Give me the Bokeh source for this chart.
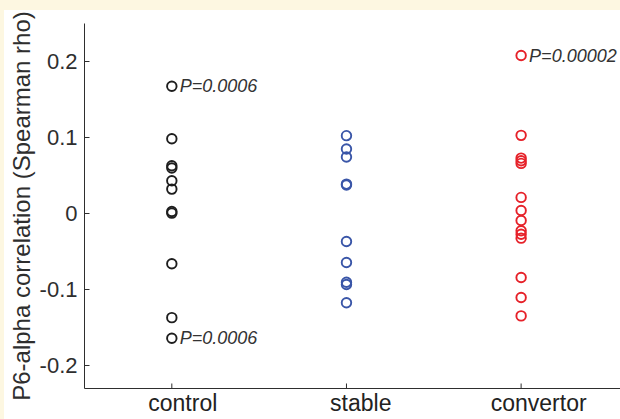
from bokeh.plotting import figure
from bokeh.layouts import column, row
from bokeh.models import (Range1d, FixedTicker, ColumnDataSource, LabelSet,
                          LinearAxis, Spacer)
from bokeh.core.properties import value
from bokeh.embed import file_html
from bokeh.resources import INLINE

# ---- data ----
categories = ["control", "stable", "convertor"]
control_rho = [0.1675, 0.0985, 0.063, 0.060, 0.0433, 0.0322, 0.0028, 0.0006,
               -0.066, -0.1368, -0.164]
stable_rho = [0.1025, 0.0849, 0.0744, 0.0388, 0.0375, -0.0367, -0.0643,
              -0.0902, -0.0933, -0.1172]
convertor_rho = [0.2079, 0.1029, 0.073, 0.0696, 0.066, 0.0213, 0.0041, -0.0091,
                 -0.0226, -0.0271, -0.0323, -0.0841, -0.1104, -0.1345]
group_colors = ["#1E1E1E", "#3A56A8", "#E62129"]

p_label_group = [1, 1, 3]
p_label_rho = [0.1675, -0.164, 0.2079]
p_label_text = ["P=0.0006", "P=0.0006", "P=0.00002"]

y_ticks = [-0.2, -0.1, 0, 0.1, 0.2]
y_tick_labels = ["-0.2", "-0.1", "0", "0.1", "0.2"]
x_limits = (0.5, 3.569)
y_limits = (-0.23, 0.25)
label_x_limits = (0.4476, 3.4597)   # category-label axis (labels sit right of ticks)

FONT = "Liberation Sans"
AX = "#2E2E2E"
CREAM = "#FDF7E1"
PAGE_W, PAGE_H = 620, 419
STRIP_TOP, STRIP_LEFT = 10, 4
W, H = PAGE_W - STRIP_LEFT, PAGE_H - STRIP_TOP
B_LEFT, B_TOP, B_BOTTOM, B_RIGHT = 80, 13, 31, 0

p = figure(width=W, height=H,
           x_range=Range1d(*x_limits), y_range=Range1d(*y_limits),
           x_axis_location=None,
           output_backend="svg", toolbar_location=None,
           min_border_left=B_LEFT, min_border_top=B_TOP,
           min_border_bottom=B_BOTTOM, min_border_right=B_RIGHT)
p.outline_line_color = None
p.xgrid.visible = False
p.ygrid.visible = False
p.background_fill_color = "white"
p.border_fill_color = "white"

# points
for i, (vals, col) in enumerate(zip([control_rho, stable_rho, convertor_rho], group_colors)):
    src = ColumnDataSource(dict(x=[i + 1] * len(vals), y=vals))
    p.scatter("x", "y", source=src, marker="circle", size=9.5,
              fill_color=None, line_color=col, line_width=1.9)

# P labels
psrc = ColumnDataSource(dict(x=p_label_group, y=p_label_rho, t=p_label_text))
p.add_layout(LabelSet(x="x", y="y", text="t", source=psrc, x_offset=8,
                      text_baseline="middle", text_align="left",
                      text_font=value(FONT), text_font_style="italic",
                      text_font_size="18px", text_color="#333333"))

# y axis
p.yaxis.ticker = FixedTicker(ticks=y_ticks)
p.yaxis.major_label_overrides = {t: s for t, s in zip(y_ticks, y_tick_labels)}
p.yaxis.axis_label = "P6-alpha correlation (Spearman rho)"
p.yaxis.axis_label_text_font = FONT
p.yaxis.axis_label_text_font_style = "normal"
p.yaxis.axis_label_text_font_size = "24px"
p.yaxis.axis_label_text_line_height = 1.0
p.yaxis.axis_label_text_color = AX
p.yaxis.axis_label_standoff = 2
p.yaxis.major_label_text_font = FONT
p.yaxis.major_label_text_font_size = "22px"
p.yaxis.major_label_text_color = AX
p.yaxis.major_label_standoff = 7
p.yaxis.axis_line_color = AX
p.yaxis.major_tick_line_color = AX
p.yaxis.major_tick_in = 5
p.yaxis.major_tick_out = 0
p.yaxis.minor_tick_line_color = None

# x axis: line + category labels on a label range
p.extra_x_ranges = {"lab": Range1d(*label_x_limits)}
xax = LinearAxis(x_range_name="lab", ticker=FixedTicker(ticks=[1, 2, 3]),
                 major_label_overrides={i + 1: c for i, c in enumerate(categories)})
xax.axis_line_color = AX
xax.axis_line_width = 1
xax.major_tick_line_color = None
xax.minor_tick_line_color = None
xax.major_tick_in = 0
xax.major_tick_out = 0
xax.major_label_standoff = 1
xax.major_label_text_font = FONT
xax.major_label_text_font_size = "23px"
xax.major_label_text_color = "#222222"
p.add_layout(xax, "below")

# inward x ticks at the category positions
tick_len = 5 * (y_limits[1] - y_limits[0]) / (H - B_TOP - B_BOTTOM)
tsrc = ColumnDataSource(dict(x=[1, 2, 3], y0=[y_limits[0]] * 3,
                             y1=[y_limits[0] + tick_len] * 3))
p.segment(x0="x", y0="y0", x1="x", y1="y1", source=tsrc,
          line_color=AX, line_width=1)

# cream page strips (top and left), as in the reference
top_strip = Spacer(width=PAGE_W, height=STRIP_TOP,
                   styles={"background-color": CREAM})
left_strip = Spacer(width=STRIP_LEFT, height=H,
                    styles={"background-color": CREAM})
page = column(top_strip, row(left_strip, p, spacing=0), spacing=0)

open("out.html", "w").write(file_html(page, INLINE))
